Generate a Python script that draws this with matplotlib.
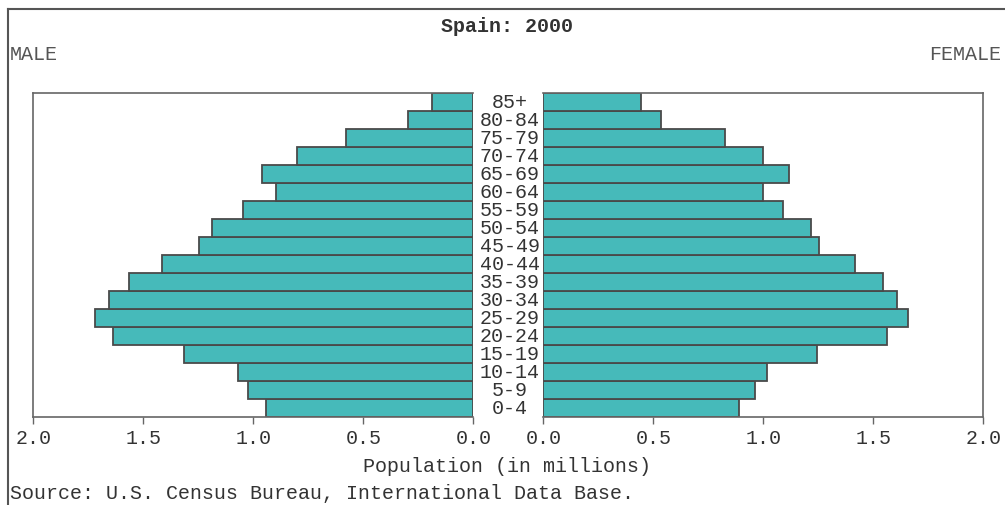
import matplotlib
matplotlib.use("Agg")
import matplotlib.pyplot as plt
from matplotlib.lines import Line2D

ages = ["0-4", "5-9", "10-14", "15-19", "20-24", "25-29", "30-34", "35-39",
        "40-44", "45-49", "50-54", "55-59", "60-64", "65-69", "70-74",
        "75-79", "80-84", "85+"]
male = [0.944, 1.025, 1.071, 1.316, 1.636, 1.718, 1.655, 1.564, 1.416,
        1.245, 1.189, 1.045, 0.898, 0.962, 0.800, 0.580, 0.298, 0.189]
female = [0.891, 0.964, 1.018, 1.245, 1.564, 1.656, 1.609, 1.545, 1.418,
          1.255, 1.218, 1.091, 1.000, 1.118, 1.000, 0.827, 0.536, 0.444]
ticks = [0.0, 0.5, 1.0, 1.5, 2.0]
tick_labels = ["0.0", "0.5", "1.0", "1.5", "2.0"]

W, H = 1005, 506
fig = plt.figure(figsize=(W / 100, H / 100), dpi=100)
FONT = "Liberation Mono"
FS = 14.4
BAR = "#46BABA"
EDGE = "#4a4a4a"
FRAME = "#666666"
TXT = "#333333"

def px(x0, y0, x1, y1):
    return [x0 / W, 1 - y1 / H, (x1 - x0) / W, (y1 - y0) / H]

axL = fig.add_axes(px(33.3, 94, 473.3, 418))
axR = fig.add_axes(px(543.3, 94, 983.3, 418))
y = list(range(len(ages)))

axL.barh(y, male, height=1.0, color=BAR, edgecolor=EDGE, linewidth=1.3)
axR.barh(y, female, height=1.0, color=BAR, edgecolor=EDGE, linewidth=1.3)

axL.set_xlim(2.0, 0.0)
axR.set_xlim(0.0, 2.0)
for ax in (axL, axR):
    ax.set_ylim(-0.5, len(ages) - 0.5)
    ax.set_yticks([])
    ax.set_xticks(ticks)
    ax.set_xticklabels(tick_labels, fontfamily=FONT, fontsize=FS, color=TXT)
    ax.tick_params(axis="x", direction="out", length=5, width=1, color=FRAME, pad=3)
    for s in ax.spines.values():
        s.set_color(FRAME)
        s.set_linewidth(1.2)
axL.spines["right"].set_visible(False)
axR.spines["left"].set_visible(False)

# age labels in the gap
for i, a in enumerate(ages):
    axL.text(-0.165, i, a, ha="center", va="center", fontfamily=FONT,
             fontsize=FS, color=TXT, clip_on=False)

fig.text(507 / W, 1 - 27 / H, "Spain: 2000", ha="center", va="center",
         fontfamily=FONT, fontsize=FS, fontweight="bold", color=TXT)
fig.text(10 / W, 1 - 55 / H, "MALE", ha="left", va="center",
         fontfamily=FONT, fontsize=FS, color="#555555")
fig.text(1001 / W, 1 - 55 / H, "FEMALE", ha="right", va="center",
         fontfamily=FONT, fontsize=FS, color="#555555")
fig.text(507 / W, 1 - 467 / H, "Population (in millions)", ha="center", va="center",
         fontfamily=FONT, fontsize=FS, color=TXT)
fig.text(10 / W, 1 - 494 / H, "Source: U.S. Census Bureau, International Data Base.",
         ha="left", va="center", fontfamily=FONT, fontsize=FS, color=TXT)

# outer frame (top and left)
fig.add_artist(Line2D([8 / W, 1.0], [1 - 10 / H, 1 - 10 / H], color="#555555", lw=1.5,
                      transform=fig.transFigure))
fig.add_artist(Line2D([8 / W, 8 / W], [0.0, 1 - 10 / H], color="#555555", lw=1.5,
                      transform=fig.transFigure))

fig.savefig("out.png", dpi=100)
